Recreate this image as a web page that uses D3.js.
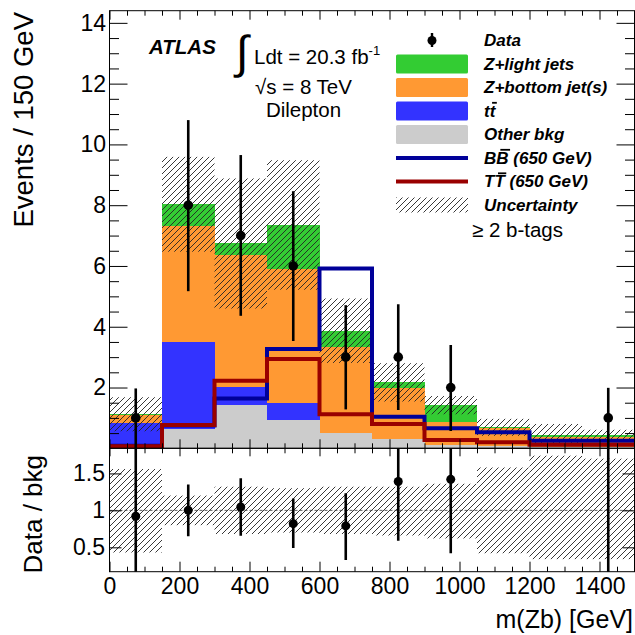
<!DOCTYPE html>
<html><head><meta charset="utf-8">
<script src="https://cdn.jsdelivr.net/npm/d3@7"></script>
<style>
body{margin:0;background:#fff}
svg{display:block}
text{font-family:"Liberation Sans",Arial,Helvetica,sans-serif;fill:#000}
</style>
</head><body>
<svg id="c" width="635" height="635"></svg>
<script>
// ---------- data ----------
const binEdges   = [0,150,300,450,600,750,900,1050,1200,1350,1500];
const otherBkg   = [0.12,0.63,1.42,0.93,0.51,0.30,0.12,0.06,0.03,0.03];
const ttbarBkg   = [0.70,2.86,0.61,0.55,0.00,0.00,0.00,0.00,0.00,0.00];
const zBottom    = [0.28,3.83,4.33,4.41,2.81,1.67,0.76,0.60,0.33,0.33];
const zLight     = [0.02,0.71,0.38,1.46,0.55,0.20,0.54,0.03,0.08,0.08];
const bkgUnc     = [0.56,1.56,2.14,2.13,1.06,0.63,0.30,0.28,0.36,0.17];
const sigBB      = [0.08,0.75,1.64,3.27,5.92,1.04,0.66,0.53,0.25,0.25];
const sigTT      = [0.07,0.77,2.22,2.94,1.12,0.80,0.27,0.20,0.12,0.12];
const dataVal    = [1,8,7,6,3,3,2,0,0,1];
const dataErrLo  = [1.00,2.83,2.64,2.47,1.72,1.74,1.43,0,0,1.00];
const dataErrHi  = [0.97,2.80,2.65,2.46,1.71,1.74,1.40,0,0,0.99];
const ratioVal   = [0.92,1.00,1.045,0.82,0.79,1.39,1.42,null,null,2.5];
const ratioErrLo = [0.92,0.35,0.39,0.33,0.46,0.80,1.00,0,0,2.5];
const ratioErrHi = [1.00,0.35,0.39,0.34,0.44,0.80,1.00,0,0,2.5];
const ratioBandLo= [0.43,0.80,0.68,0.70,0.68,0.66,0.62,0.42,0.34,0.34];
const ratioBandHi= [1.56,1.20,1.32,1.30,1.32,1.32,1.36,1.58,1.74,1.70];
const upperYTicks = [2,4,6,8,10,12,14];
const lowerYTicks = [0.5,1,1.5];
const xTickLabels = [0,200,400,600,800,1000,1200,1400];

const stackKeys   = ["other","ttbar","zb","zl"];
const stackColors = {other:"#cccccc", ttbar:"#3333ff", zb:"#ff9933", zl:"#33cc33"};
const legendItems = [
  {type:"data", label:"Data"},
  {type:"box", key:"zl", label:"Z+light jets"},
  {type:"box", key:"zb", label:"Z+bottom jet(s)"},
  {type:"box", key:"ttbar", label:"tt", bar:1},
  {type:"box", key:"other", label:"Other bkg"},
  {type:"line", color:"#000099", label:"BB (650 GeV)", bar:1},
  {type:"line", color:"#990000", label:"TT (650 GeV)", bar:1},
  {type:"hatch", label:"Uncertainty"}
];

// ---------- layout ----------
const L=109.5, R=634.5, uT=10.7, uB=448.3, lT=448.3, lB=571.7;
const svg = d3.select("#c");
const x  = d3.scaleLinear().domain([0,1500]).range([L,R]);
const yU = d3.scaleLinear().domain([0,14.4]).range([uB,uT]);
const yL = d3.scaleLinear().domain([0.17,1.84]).range([lB,lT]);

const defs = svg.append("defs");
const pat = defs.append("pattern").attr("id","hatch").attr("patternUnits","userSpaceOnUse")
  .attr("width",6).attr("height",6);
pat.append("path").attr("d","M-1,1 L1,-1 M0,6 L6,0 M5,7 L7,5")
  .attr("stroke","#222").attr("stroke-width",0.9).attr("fill","none");
defs.append("clipPath").attr("id","clipU").append("rect")
  .attr("x",L).attr("y",uT).attr("width",R-L).attr("height",uB-uT);
defs.append("clipPath").attr("id","clipL").append("rect")
  .attr("x",L).attr("y",lT).attr("width",R-L).attr("height",lB-lT);

const bins = d3.range(dataVal.length).map(i=>({
  i, lo:binEdges[i], hi:binEdges[i+1], c:(binEdges[i]+binEdges[i+1])/2,
  other:otherBkg[i], ttbar:ttbarBkg[i], zb:zBottom[i], zl:zLight[i]
}));
bins.forEach(b=>{ b.total = b.other+b.ttbar+b.zb+b.zl; });

// ---------- upper panel ----------
const gU = svg.append("g").attr("clip-path","url(#clipU)");
const stack = d3.stack().keys(stackKeys)(bins);
stack.forEach(layer=>{
  gU.append("g").selectAll("rect").data(layer).join("rect")
    .attr("x",d=>x(d.data.lo)).attr("width",d=>x(d.data.hi)-x(d.data.lo))
    .attr("y",d=>yU(d[1])).attr("height",d=>Math.max(0,yU(d[0])-yU(d[1])))
    .attr("fill",stackColors[layer.key]).attr("shape-rendering","crispEdges");
});
gU.append("g").selectAll("rect").data(bins).join("rect")
  .attr("x",d=>x(d.lo)).attr("width",d=>x(d.hi)-x(d.lo))
  .attr("y",d=>yU(d.total+bkgUnc[d.i]))
  .attr("height",d=>yU(Math.max(0,d.total-bkgUnc[d.i]))-yU(d.total+bkgUnc[d.i]))
  .attr("fill","url(#hatch)");

function stepPts(vals){
  const pts = vals.map((v,i)=>[binEdges[i],v]);
  pts.push([binEdges[vals.length],vals[vals.length-1]]);
  return pts;
}
const stepLine = d3.line().x(d=>x(d[0])).y(d=>yU(d[1])).curve(d3.curveStepAfter);
gU.append("path").attr("d",stepLine(stepPts(sigBB))).attr("fill","none")
  .attr("stroke","#000099").attr("stroke-width",4);
gU.append("path").attr("d",stepLine(stepPts(sigTT))).attr("fill","none")
  .attr("stroke","#990000").attr("stroke-width",4);

const dBins = bins.filter(b=>dataVal[b.i]>0);
svg.append("g").selectAll("line").data(dBins).join("line")
  .attr("x1",d=>x(d.c)).attr("x2",d=>x(d.c))
  .attr("y1",d=>yU(dataVal[d.i]-dataErrLo[d.i])).attr("y2",d=>yU(dataVal[d.i]+dataErrHi[d.i]))
  .attr("stroke","#000").attr("stroke-width",2.6);
svg.append("g").selectAll("circle").data(dBins).join("circle")
  .attr("cx",d=>x(d.c)).attr("cy",d=>yU(dataVal[d.i])).attr("r",4.8).attr("fill","#000");

// ---------- lower panel ----------
const gL = svg.append("g").attr("clip-path","url(#clipL)");
gL.append("g").selectAll("rect").data(bins).join("rect")
  .attr("x",d=>x(d.lo)).attr("width",d=>x(d.hi)-x(d.lo))
  .attr("y",d=>yL(ratioBandHi[d.i])).attr("height",d=>yL(ratioBandLo[d.i])-yL(ratioBandHi[d.i]))
  .attr("fill","url(#hatch)");
gL.append("line").attr("x1",L).attr("x2",R).attr("y1",yL(1)).attr("y2",yL(1))
  .attr("stroke","#333").attr("stroke-width",0.8).attr("stroke-dasharray","3,2");
const rBins = bins.filter(b=>ratioVal[b.i]!==null);
gL.append("g").selectAll("line").data(rBins).join("line")
  .attr("x1",d=>x(d.c)).attr("x2",d=>x(d.c))
  .attr("y1",d=>yL(ratioVal[d.i]-ratioErrLo[d.i])).attr("y2",d=>yL(ratioVal[d.i]+ratioErrHi[d.i]))
  .attr("stroke","#000").attr("stroke-width",2.6);
gL.append("g").selectAll("circle").data(rBins).join("circle")
  .attr("cx",d=>x(d.c)).attr("cy",d=>yL(ratioVal[d.i])).attr("r",4.5).attr("fill","#000");

// ---------- frames & axes ----------
svg.append("rect").attr("x",L).attr("y",uT).attr("width",R-L).attr("height",uB-uT)
  .attr("fill","none").attr("stroke","#000").attr("stroke-width",1);
svg.append("rect").attr("x",L).attr("y",lT).attr("width",R-L).attr("height",lB-lT)
  .attr("fill","none").attr("stroke","#000").attr("stroke-width",1);

function styleAxis(g, fs){
  g.select(".domain").remove();
  g.selectAll(".tick line").attr("stroke","#000").attr("stroke-width",1);
  g.selectAll(".tick text").attr("font-size",fs).attr("fill","#000")
   .attr("font-family","'Liberation Sans',Arial,sans-serif");
}
const minorU = d3.range(0,14.41,0.5).filter(v=>Math.abs(v/2-Math.round(v/2))>1e-6);
const majorX = d3.range(0,1501,200);
const minorX = d3.range(0,1501,50).filter(v=>v%200!==0);

// upper left
svg.append("g").attr("transform",`translate(${L},0)`)
  .call(d3.axisLeft(yU).tickValues(upperYTicks).tickSize(-18).tickPadding(3.5).tickFormat(d3.format("d")))
  .call(g=>styleAxis(g,23));
svg.append("g").attr("transform",`translate(${L},0)`)
  .call(d3.axisLeft(yU).tickValues(minorU).tickSize(-9.5).tickFormat(""))
  .call(g=>styleAxis(g,0));
// upper right
svg.append("g").attr("transform",`translate(${R},0)`)
  .call(d3.axisRight(yU).tickValues(upperYTicks).tickSize(-18).tickFormat(""))
  .call(g=>styleAxis(g,0));
svg.append("g").attr("transform",`translate(${R},0)`)
  .call(d3.axisRight(yU).tickValues(minorU).tickSize(-9.5).tickFormat(""))
  .call(g=>styleAxis(g,0));
// upper top & bottom
svg.append("g").attr("transform",`translate(0,${uT})`)
  .call(d3.axisTop(x).tickValues(majorX).tickSize(-9).tickFormat("")).call(g=>styleAxis(g,0));
svg.append("g").attr("transform",`translate(0,${uT})`)
  .call(d3.axisTop(x).tickValues(minorX).tickSize(-5).tickFormat("")).call(g=>styleAxis(g,0));
svg.append("g").attr("transform",`translate(0,${uB})`)
  .call(d3.axisBottom(x).tickValues(majorX).tickSize(-9).tickFormat("")).call(g=>styleAxis(g,0));
svg.append("g").attr("transform",`translate(0,${uB})`)
  .call(d3.axisBottom(x).tickValues(minorX).tickSize(-5).tickFormat("")).call(g=>styleAxis(g,0));
// lower left / right
svg.append("g").attr("transform",`translate(${L},0)`)
  .call(d3.axisLeft(yL).tickValues(lowerYTicks).tickSize(-12).tickPadding(4.5).tickFormat(d=>String(d)))
  .call(g=>styleAxis(g,23));
svg.append("g").attr("transform",`translate(${R},0)`)
  .call(d3.axisRight(yL).tickValues(lowerYTicks).tickSize(-12).tickFormat(""))
  .call(g=>styleAxis(g,0));
// lower top & bottom
svg.append("g").attr("transform",`translate(0,${lT})`)
  .call(d3.axisTop(x).tickValues(majorX).tickSize(-8).tickFormat("")).call(g=>styleAxis(g,0));
svg.append("g").attr("transform",`translate(0,${lT})`)
  .call(d3.axisTop(x).tickValues(minorX).tickSize(-5).tickFormat("")).call(g=>styleAxis(g,0));
svg.append("g").attr("transform",`translate(0,${lB})`)
  .call(d3.axisBottom(x).tickValues(xTickLabels).tickSize(-10).tickPadding(6).tickFormat(d3.format("d")))
  .call(g=>styleAxis(g,23));
svg.append("g").attr("transform",`translate(0,${lB})`)
  .call(d3.axisBottom(x).tickValues(minorX.concat([1500])).tickSize(-5).tickFormat("")).call(g=>styleAxis(g,0));

// axis titles
svg.append("text").attr("transform","translate(33,12) rotate(-90)").attr("text-anchor","end")
  .attr("font-size",27.5).text("Events / 150 GeV");
svg.append("text").attr("transform","translate(42,455) rotate(-90)").attr("text-anchor","end")
  .attr("font-size",26).text("Data / bkg");
svg.append("text").attr("x",633).attr("y",628).attr("text-anchor","end")
  .attr("font-size",25).text("m(Zb) [GeV]");

// ---------- labels ----------
svg.append("text").attr("x",149).attr("y",54).attr("font-size",20.5)
  .attr("font-weight","bold").attr("font-style","italic").text("ATLAS");
svg.append("text").attr("x",236).attr("y",68).attr("font-size",46)
  .attr("font-family","'Liberation Serif','DejaVu Serif',serif").text("∫");
const lum = svg.append("text").attr("x",254).attr("y",63.5).attr("font-size",20.5);
lum.append("tspan").text("Ldt = 20.3 fb");
lum.append("tspan").attr("dy",-9).attr("font-size",13).text("-1");
svg.append("text").attr("x",303.5).attr("y",94).attr("text-anchor","middle").attr("font-size",20.5).text("√s = 8 TeV");
svg.append("text").attr("x",303.5).attr("y",117).attr("text-anchor","middle").attr("font-size",20.5).text("Dilepton");

// ---------- legend ----------
const lg = svg.append("g");
const rowY = i => 40.5 + 23.5*i;
legendItems.forEach((it,i)=>{
  const cy = rowY(i);
  if(it.type==="data"){
    lg.append("line").attr("x1",432).attr("x2",432).attr("y1",cy-7.5).attr("y2",cy+6.5)
      .attr("stroke","#000").attr("stroke-width",2.4);
    lg.append("circle").attr("cx",432).attr("cy",cy).attr("r",4.5).attr("fill","#000");
  } else if(it.type==="box"){
    lg.append("rect").attr("x",396).attr("y",cy-9.5).attr("width",72).attr("height",19)
      .attr("rx",1.5).attr("fill",stackColors[it.key]);
  } else if(it.type==="line"){
    lg.append("line").attr("x1",396).attr("x2",468).attr("y1",cy).attr("y2",cy)
      .attr("stroke",it.color).attr("stroke-width",4);
  } else {
    lg.append("rect").attr("x",396).attr("y",cy-7.5).attr("width",72).attr("height",15)
      .attr("fill","url(#hatch)");
  }
  const t = lg.append("text").attr("x",484).attr("y",cy+5.8).attr("font-size",17)
    .attr("font-weight","bold").attr("font-style","italic").text(it.label);
  if(it.bar){
    const e = t.node().getExtentOfChar(it.bar);
    lg.append("line").attr("x1",e.x+e.width*0.25+1).attr("x2",e.x+e.width+1.5)
      .attr("y1",cy+5.8-14).attr("y2",cy+5.8-14).attr("stroke","#000").attr("stroke-width",1.8);
  }
});
svg.append("text").attr("x",472).attr("y",236.5).attr("font-size",20.5).text("≥ 2 b-tags");
</script>
</body></html>
